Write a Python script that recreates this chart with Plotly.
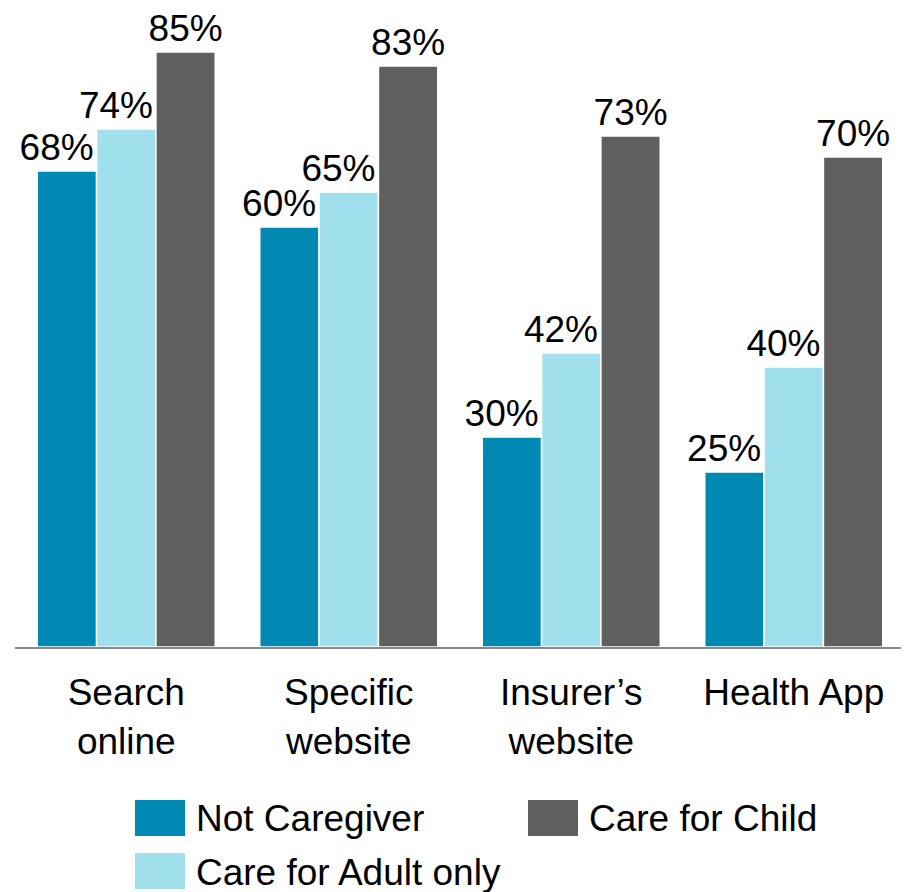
import plotly.graph_objects as go

categories = ["Search<br>online", "Specific<br>website", "Insurer’s<br>website", "Health App"]
not_caregiver = [68, 60, 30, 25]
care_adult = [74, 65, 42, 40]
care_child = [85, 83, 73, 70]

series = [
    ("Not Caregiver", not_caregiver, "#008AB3"),
    ("Care for Adult only", care_adult, "#A0E0EC"),
    ("Care for Child", care_child, "#5F5F5F"),
]

# page body adds an 8px margin, so the figure is sized to the visible area
W, H = 901, 884
ML, MR, MT, MB = 7, 4, 0, 245
FONT = "Liberation Sans, Arial, sans-serif"
FS = 37


def px_x(x):
    return (x - ML) / (W - ML - MR)


def px_y(y):
    return (H - MB - y) / (H - MT - MB)


fig = go.Figure()
for i, (name, vals, color) in enumerate(series):
    # the first two series' labels sit a little left of the bar, as in the original
    pad = "\u00a0\u00a0" if i < 2 else ""
    fig.add_trace(
        go.Bar(
            x=categories,
            y=vals,
            name=name,
            marker=dict(color=color, line=dict(color="white", width=1.5)),
            text=[f"{v}%{pad}" for v in vals],
            textposition="outside",
            constraintext="none",
            cliponaxis=False,
            textfont=dict(size=FS, color="black", family=FONT),
            showlegend=False,
        )
    )

# legend drawn as big swatches, laid out column-first like the original
legend_slots = {
    "Not Caregiver": (127, 792),
    "Care for Adult only": (127, 845),
    "Care for Child": (520, 792),
}
for name, vals, color in series:
    x0, y0 = legend_slots[name]
    fig.add_shape(
        type="rect", xref="paper", yref="paper",
        x0=px_x(x0), x1=px_x(x0 + 50), y0=px_y(y0), y1=px_y(y0 + 36),
        fillcolor=color, line_width=0,
    )
    fig.add_annotation(
        text=name, xref="paper", yref="paper",
        x=px_x(x0 + 59), y=px_y(y0 + 19), xanchor="left", yanchor="middle",
        showarrow=False, font=dict(size=FS, color="black", family=FONT),
    )

fig.update_layout(
    width=W,
    height=H,
    template="plotly_white",
    margin=dict(l=ML, r=MR, t=MT, b=MB),
    paper_bgcolor="white",
    plot_bgcolor="white",
    barmode="group",
    bargap=0.2,
    bargroupgap=0,
    font=dict(family=FONT, size=FS, color="black"),
)
fig.update_xaxes(
    showline=True, linecolor="#888888", linewidth=2,
    showgrid=False, ticks="outside", ticklen=12, tickcolor="rgba(0,0,0,0)",
    tickfont=dict(size=FS, color="black"),
)
fig.update_yaxes(visible=False, range=[0, 91.3], showgrid=False)

fig.write_html("out.html")
